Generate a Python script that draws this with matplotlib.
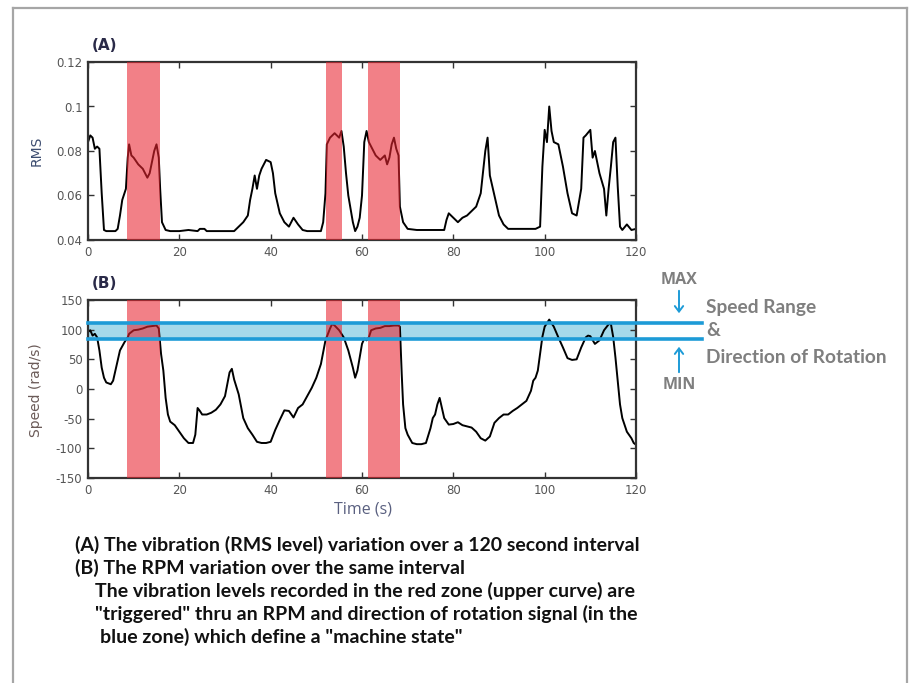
import matplotlib
matplotlib.use("Agg")
import matplotlib.pyplot as plt
from matplotlib.lines import Line2D
from matplotlib.patches import FancyArrowPatch
import numpy as np

plt.rcParams["axes.unicode_minus"] = False

# ---- data ----
t_rms = [0, 0.5, 1, 1.5, 2, 2.5, 3, 3.5, 4, 5, 6, 6.5, 7, 7.5, 8.3, 8.7, 9, 9.5, 10, 11, 12, 12.5, 13, 13.5,
         14, 14.5, 15, 15.5, 15.8, 16.2, 17, 18, 20, 22, 24, 24.5, 25.5, 26, 28, 30, 32, 33, 34, 35, 35.5, 36,
         36.5, 37, 37.5, 38, 39, 40, 40.5, 41, 42, 43, 44, 45, 46, 47, 48, 50, 51, 51.5, 52, 52.3, 53, 54, 55,
         55.5, 56, 56.5, 57, 58, 58.5, 59, 59.5, 60, 60.5, 61, 61.5, 62, 63, 63.5, 64, 65, 65.5, 66, 66.5, 67,
         67.5, 68, 68.3, 69, 70, 72, 74, 76, 78, 78.5, 79, 80, 81, 82, 83, 84, 85, 86, 87, 87.5, 88, 89, 90,
         91, 92, 94, 96, 98, 99, 99.5, 100, 100.5, 101, 101.5, 102, 103, 104, 105, 106, 107, 108, 108.5, 109,
         110, 110.5, 111, 112, 113, 113.5, 114, 114.5, 115, 115.5, 116, 116.5, 117, 118, 119, 120]
rms = [0.084, 0.087, 0.086, 0.081, 0.082, 0.081, 0.061, 0.0445, 0.044, 0.044, 0.044, 0.045, 0.051, 0.058, 0.063,
       0.077, 0.083, 0.078, 0.077, 0.074, 0.072, 0.070, 0.068, 0.070, 0.075, 0.080, 0.083, 0.077, 0.063, 0.048,
       0.0445, 0.044, 0.044, 0.0445, 0.044, 0.045, 0.045, 0.044, 0.044, 0.044, 0.044, 0.046, 0.048, 0.051, 0.058,
       0.063, 0.069, 0.063, 0.069, 0.072, 0.076, 0.075, 0.070, 0.061, 0.052, 0.048, 0.046, 0.050, 0.047, 0.0445,
       0.044, 0.044, 0.044, 0.048, 0.061, 0.083, 0.086, 0.088, 0.086, 0.089, 0.082, 0.070, 0.060, 0.048, 0.044,
       0.046, 0.050, 0.060, 0.084, 0.089, 0.084, 0.082, 0.078, 0.077, 0.076, 0.078, 0.074, 0.077, 0.083, 0.086,
       0.081, 0.078, 0.055, 0.048, 0.045, 0.0445, 0.0445, 0.0445, 0.0445, 0.049, 0.052, 0.050, 0.048, 0.050,
       0.051, 0.053, 0.055, 0.061, 0.080, 0.086, 0.069, 0.060, 0.051, 0.047, 0.045, 0.045, 0.045, 0.045, 0.046,
       0.073, 0.0895, 0.084, 0.100, 0.089, 0.084, 0.083, 0.073, 0.061, 0.052, 0.051, 0.063, 0.086, 0.087,
       0.0895, 0.077, 0.080, 0.070, 0.063, 0.051, 0.063, 0.073, 0.084, 0.086, 0.064, 0.046, 0.0445, 0.047,
       0.0445, 0.045]

t_spd = [0, 0.5, 1, 1.5, 2, 2.5, 3, 3.5, 4, 5, 5.5, 6, 6.5, 7, 8, 8.7, 9, 10, 11, 12, 13, 14, 15, 15.5, 16,
         16.5, 17, 17.5, 18, 19, 20, 21, 22, 23, 23.5, 24, 24.5, 25, 26, 27, 28, 29, 30, 30.5, 31, 31.5, 32,
         33, 34, 35, 36, 37, 38, 39, 40, 41, 42, 43, 44, 45, 46, 47, 48, 49, 50, 51, 52, 53, 53.5, 54, 55,
         55.5, 56, 57, 58, 58.5, 59, 60, 60.5, 61, 61.5, 62, 63, 64, 65, 66, 67, 68, 68.3, 68.7, 69, 69.5,
         70, 71, 72, 73, 74, 75, 75.5, 76, 76.5, 77, 77.5, 78, 79, 80, 81, 82, 83, 84, 85, 86, 87, 88, 89,
         90, 91, 92, 93, 94, 95, 96, 97, 97.5, 98, 98.5, 99, 99.5, 100, 101, 102, 103, 104, 105, 106, 107,
         108, 109, 109.5, 110, 111, 112, 113, 114, 114.5, 115, 115.5, 116, 116.5, 117, 118, 119, 119.5, 120]
speed = [96, 99, 90, 93, 87, 65, 36, 19, 11, 8, 14, 31, 48, 65, 79, 87, 93, 99, 100, 102, 105, 106, 107, 102,
         59, 31, -15, -43, -55, -61, -72, -83, -91, -91, -77, -32, -37, -43, -43, -40, -35, -26, -12, 8, 28,
         34, 16, -9, -49, -66, -77, -89, -91, -91, -89, -69, -52, -36, -37, -48, -32, -26, -12, 2, 19, 42,
         82, 102, 110, 107, 99, 93, 87, 65, 36, 19, 31, 76, 85, 82, 87, 99, 102, 103, 106, 106, 107, 107,
         105, 25, -26, -66, -77, -91, -93, -93, -91, -66, -49, -43, -26, -15, -32, -49, -60, -59, -56, -61,
         -63, -65, -72, -83, -87, -80, -57, -49, -43, -43, -37, -32, -26, -20, -3, 14, 19, 31, 59, 88, 105,
         117, 105, 87, 70, 52, 49, 50, 70, 87, 90, 89, 76, 82, 99, 109, 110, 88, 53, 14, -26, -49, -72, -83,
         -91, -94]

red_zones = [(8.5, 15.8), (52.2, 55.7), (61.3, 68.3)]
speed_min, speed_max = 84, 111

x_ticks = [0, 20, 40, 60, 80, 100, 120]
rms_ticks = [0.04, 0.06, 0.08, 0.1, 0.12]
rms_tick_labels = ["0.04", "0.06", "0.08", "0.1", "0.12"]
spd_ticks = [-150, -100, -50, 0, 50, 100, 150]

caption = [
    "(A) The vibration (RMS level) variation over a 120 second interval",
    "(B) The RPM variation over the same interval",
    "The vibration levels recorded in the red zone (upper curve) are",
    "\"triggered\" thru an RPM and direction of rotation signal (in the",
    "blue zone) which define a \"machine state\"",
]
caption_x = [75, 75, 95, 95, 100]

# ---- figure ----
W, H = 912, 683
fig = plt.figure(figsize=(W / 100, H / 100), dpi=100)
fig.patch.set_facecolor("white")

def fx(x):
    return x / W

def fy(y):
    return 1 - y / H

# outer frame
for xs, ys in [([13, 907], [8, 8]), ([13, 13], [8, 683]), ([907, 907], [8, 683])]:
    fig.add_artist(Line2D([fx(v) for v in xs], [fy(v) for v in ys], color="#a6a6a6", lw=1.6))

ax_l, ax_r = 88, 636
ax1 = fig.add_axes([fx(ax_l), fy(240), fx(ax_r) - fx(ax_l), (240 - 62) / H])
ax2 = fig.add_axes([fx(ax_l), fy(478), fx(ax_r) - fx(ax_l), (478 - 300) / H])

red = "#ea2530"
blue = "#1d9bd7"

for ax in (ax1, ax2):
    ax.set_xlim(0, 120)
    ax.set_xticks(x_ticks)
    ax.tick_params(direction="in", top=True, right=True, length=4, width=1,
                   labelsize=8.5, labelcolor="#555555", color="#333333", pad=4)
    for s in ax.spines.values():
        s.set_linewidth(1.6)
        s.set_color("#333333")
    for a, b in red_zones:
        ax.axvspan(a, b, color=red, alpha=0.58, lw=0, zorder=3)

ax1.plot(t_rms, rms, color="black", lw=1.4, zorder=2)
ax1.set_ylim(0.04, 0.12)
ax1.set_yticks(rms_ticks)
ax1.set_yticklabels(rms_tick_labels)

ax2.fill_between([0, 120], speed_min, speed_max, color="#a5d9ea", lw=0, zorder=1)
ax2.plot(t_spd, speed, color="black", lw=1.4, zorder=2)
ax2.set_ylim(-150, 150)
ax2.set_yticks(spd_ticks)
ax2.set_yticklabels([str(v) for v in spd_ticks])
ax2.set_xticklabels([str(v) for v in x_ticks])

# blue limit lines extending past the axes
ext = (702 - ax_l) / (ax_r - ax_l)
for v in (speed_min, speed_max):
    ax2.plot([0, ext], [v, v], transform=ax2.get_yaxis_transform(), color=blue, lw=2.6,
             clip_on=False, zorder=5)

# panel labels and axis labels
fig.text(fx(92), fy(45), "(A)", fontsize=11, fontweight="bold", color="#2a2a48",
         ha="left", va="center", family="DejaVu Sans")
fig.text(fx(92), fy(283), "(B)", fontsize=11, fontweight="bold", color="#2a2a48",
         ha="left", va="center", family="DejaVu Sans")
fig.text(fx(37), fy(151), "RMS", fontsize=10, color="#3d4d70", rotation=90,
         ha="center", va="center")
fig.text(fx(36), fy(390), "Speed (rad/s)", fontsize=10, color="#6b5b58", rotation=90,
         ha="center", va="center")
fig.text(fx(363), fy(510), "Time (s)", fontsize=11.5, color="#5a6080",
         ha="center", va="center", family="Open Sans")

# right-hand annotation
gray = "#7f7f7f"
fig.text(fx(679), fy(280), "MAX", fontsize=11.5, color=gray, ha="center", va="center",
         family="Open Sans", fontweight="bold")
fig.text(fx(679), fy(385), "MIN", fontsize=11.5, color=gray, ha="center", va="center",
         family="Open Sans", fontweight="bold")
fig.add_artist(FancyArrowPatch(
    (fx(679), fy(288)), (fx(679), fy(316)), transform=fig.transFigure,
    arrowstyle="->,head_length=4,head_width=3", color=blue, lw=1.4, mutation_scale=1))
fig.add_artist(FancyArrowPatch(
    (fx(679), fy(375)), (fx(679), fy(344)), transform=fig.transFigure,
    arrowstyle="->,head_length=4,head_width=3", color=blue, lw=1.4, mutation_scale=1))
for txt, y in [("Speed Range", 308), ("&", 331), ("Direction of Rotation", 357)]:
    fig.text(fx(706), fy(y), txt, fontsize=13.8, color=gray, ha="left", va="center",
             family="Lato", fontweight="bold")

# caption
for i, (line, x0) in enumerate(zip(caption, caption_x)):
    fig.text(fx(x0), fy(545 + i * 23), line, fontsize=14, color="#111111", ha="left",
             va="center", family="Lato", fontweight="bold")

fig.savefig("out.png", dpi=100, facecolor="white")
